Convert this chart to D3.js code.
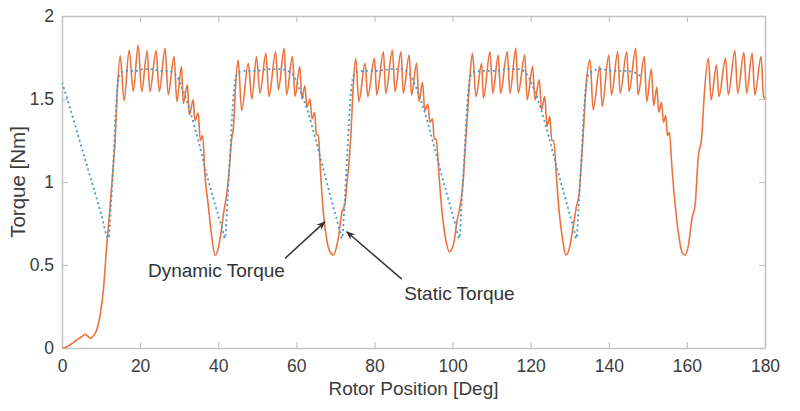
<!DOCTYPE html>
<html>
<head>
<meta charset="utf-8">
<script src="https://cdn.jsdelivr.net/npm/d3@7"></script>
<style>
  body { margin: 0; background: #fff; }
  svg { display: block; font-family: "Liberation Sans", Arial, sans-serif; }
</style>
</head>
<body>
<svg id="chart" width="800" height="411"></svg>
<script>
const xTicks = [0, 20, 40, 60, 80, 100, 120, 140, 160, 180]
const yTicks = [0, 0.5, 1, 1.5, 2]

// [rotor position (deg), torque (Nm)]
const dynamicTorque = [
  [0, 0], [1, 0.005], [2, 0.018], [3, 0.035], [4, 0.052], [5, 0.068], [5.9, 0.082], [6.6, 0.072],
  [7.3, 0.058], [8.1, 0.075], [8.9, 0.11], [9.7, 0.19], [10.6, 0.35], [11.4, 0.6], [12.2, 0.82],
  [13.1, 1.09], [13.6, 1.25], [14.1, 1.52], [14.9, 1.76],
  [15.9, 1.49], [17.2, 1.795], [18.25, 1.545], [19.5, 1.825], [20.4, 1.545], [21.8, 1.79], [22.5, 1.545],
  [24.1, 1.79], [24.9, 1.545], [26.4, 1.805], [27.2, 1.525], [28.7, 1.755], [29.4, 1.485], [30.6, 1.695],
  [31.05, 1.475], [32.1, 1.585], [32.6, 1.405], [33.6, 1.495], [34.05, 1.37], [34.9, 1.415], [35.4, 1.25],
  [36.0, 1.28], [36.6, 1.04], [37.5, 0.85], [38.4, 0.66], [39.2, 0.56], [40.0, 0.6], [40.6, 0.68],
  [41.5, 0.83], [42.3, 0.95], [42.9, 1.1], [43.4, 1.25], [43.9, 1.33], [44.5, 1.6], [45.1, 1.735],
  [46.0, 1.43], [47.7, 1.715], [48.6, 1.5], [49.8, 1.755], [50.7, 1.535], [52.2, 1.775], [53.0, 1.515],
  [54.7, 1.785], [55.4, 1.555], [56.9, 1.805], [57.5, 1.525], [59.0, 1.755], [59.65, 1.515], [60.9, 1.695],
  [61.4, 1.5], [62.2, 1.58], [62.7, 1.45], [63.5, 1.5], [64.0, 1.38], [64.7, 1.42], [65.1, 1.29],
  [65.6, 1.28], [66.2, 1.06], [66.9, 0.82], [67.8, 0.65], [68.6, 0.58], [69.45, 0.56], [70.2, 0.6],
  [70.8, 0.67], [71.6, 0.81], [72.45, 0.87], [73.0, 1.0], [73.5, 1.12], [74.0, 1.3], [74.5, 1.55], [75.2, 1.745],
  [76.0, 1.485], [77.6, 1.715], [78.3, 1.515], [80.0, 1.745], [80.6, 1.525], [82.3, 1.785], [82.9, 1.535],
  [84.6, 1.795], [85.25, 1.545], [86.8, 1.785], [87.4, 1.535], [88.9, 1.765], [89.5, 1.525], [90.8, 1.715],
  [91.4, 1.485], [92.3, 1.6], [92.9, 1.43], [93.7, 1.47], [94.2, 1.36], [94.9, 1.38], [95.3, 1.26],
  [95.8, 1.26], [96.5, 1.05], [97.3, 0.82], [98.2, 0.66], [99.2, 0.58], [100.2, 0.62], [101.2, 0.77],
  [102.1, 0.88], [102.7, 1.0], [103.2, 1.19], [103.8, 1.4], [104.4, 1.62], [105.1, 1.775],
  [106.0, 1.515], [107.45, 1.715], [107.9, 1.505], [109.6, 1.785], [110.3, 1.535], [111.7, 1.765], [112.3, 1.535],
  [114.0, 1.785], [114.7, 1.535], [116.2, 1.805], [116.8, 1.535], [118.5, 1.765], [119.1, 1.495], [120.5, 1.695],
  [121.1, 1.495], [122.2, 1.615], [122.8, 1.435], [123.6, 1.515], [124.2, 1.335], [124.9, 1.395], [125.4, 1.25],
  [125.9, 1.25], [126.6, 1.03], [127.3, 0.82], [128.2, 0.65], [129.0, 0.56], [129.9, 0.6], [130.8, 0.72],
  [131.7, 0.85], [132.4, 0.93], [133.0, 1.12], [133.5, 1.31], [134.3, 1.61], [135.2, 1.735],
  [136.0, 1.435], [137.7, 1.695], [138.3, 1.455], [140.0, 1.765], [140.7, 1.525], [142.3, 1.785], [142.9, 1.535],
  [144.6, 1.785], [145.2, 1.545], [146.9, 1.805], [147.5, 1.525], [149.1, 1.755], [149.7, 1.485], [150.9, 1.68],
  [151.5, 1.46], [152.3, 1.57], [152.8, 1.42], [153.5, 1.48], [154.0, 1.36], [154.6, 1.4], [155.0, 1.28],
  [155.5, 1.3], [156.2, 1.08], [157.0, 0.86], [157.9, 0.68], [158.7, 0.58], [159.5, 0.56], [160.4, 0.62],
  [161.3, 0.78], [162.1, 0.86], [162.9, 1.15], [163.8, 1.27], [164.4, 1.51], [165.5, 1.745],
  [166.2, 1.495], [167.6, 1.705], [168.2, 1.515], [169.9, 1.745], [170.6, 1.525], [172.3, 1.79], [173.0, 1.535],
  [174.6, 1.78], [175.3, 1.535], [176.7, 1.775], [177.4, 1.525], [179.0, 1.755], [179.6, 1.52], [180, 1.5]
]

const staticTorque = [
  [0, 1.6], [2, 1.45], [4, 1.29], [6, 1.13], [8, 0.97], [10, 0.81], [11.9, 0.66], [12.5, 0.85],
  [13.1, 1.09], [13.7, 1.4], [14.3, 1.6], [15.2, 1.66], [17, 1.67], [19, 1.67], [21, 1.68], [23, 1.68],
  [25, 1.67], [27, 1.67], [29, 1.65], [31, 1.55], [33, 1.41], [35, 1.24], [37, 1.05], [39, 0.88],
  [41, 0.72], [41.7, 0.66], [42.4, 0.9], [43.0, 1.15], [43.7, 1.45], [44.4, 1.62], [45.2, 1.66],
  [47, 1.67], [50, 1.67], [53, 1.68], [56, 1.68], [59, 1.65], [61, 1.55], [63, 1.42], [65, 1.25],
  [67, 1.07], [69, 0.89], [71, 0.72], [71.7, 0.66], [72.4, 0.9], [73, 1.15], [73.7, 1.45], [74.4, 1.62],
  [75.2, 1.66], [78, 1.67], [81, 1.67], [84, 1.68], [87, 1.68], [89, 1.65], [91, 1.55], [93, 1.41],
  [95, 1.24], [97, 1.06], [99, 0.89], [101, 0.72], [101.7, 0.66], [102.4, 0.9], [103, 1.15], [103.7, 1.45],
  [104.4, 1.62], [105.2, 1.66], [108, 1.67], [111, 1.67], [114, 1.68], [117, 1.68], [119, 1.65], [121, 1.55],
  [123, 1.41], [125, 1.24], [127, 1.06], [129, 0.89], [131, 0.72], [131.7, 0.66], [132.4, 0.9], [133, 1.15],
  [133.7, 1.45], [134.4, 1.62], [135.2, 1.66], [138, 1.68], [141, 1.67], [144, 1.67], [146.5, 1.66], [148.5, 1.63]
]

const width = 800
const height = 411
const margin = { top: 16, right: 35, bottom: 63, left: 62 }
const innerW = width - margin.left - margin.right
const innerH = height - margin.top - margin.bottom

const axisColor = '#c3c3c3'
const textColor = '#3c3c3c'

const xScale = d3.scaleLinear().domain([0, 180]).range([0, innerW])
const yScale = d3.scaleLinear().domain([0, 2]).range([innerH, 0])

const svg = d3.select('#chart')
const g = svg.append('g').attr('transform', `translate(${margin.left},${margin.top})`)

svg.append('defs').call(defs => {
  defs.append('clipPath').attr('id', 'plot-clip')
    .append('rect').attr('width', innerW).attr('height', innerH)
  defs.append('marker')
    .attr('id', 'arrowhead')
    .attr('viewBox', '0 0 10 10')
    .attr('refX', 9).attr('refY', 5)
    .attr('markerWidth', 9).attr('markerHeight', 9)
    .attr('markerUnits', 'userSpaceOnUse')
    .attr('orient', 'auto')
    .append('path').attr('d', 'M0,1 L10,5 L0,9 L3,5 Z').attr('fill', '#333')
})

// 坐标轴（四边框 + 内向刻度）
function styleAxis(sel) {
  sel.select('.domain').attr('stroke', axisColor).attr('stroke-width', 1.5)
  sel.selectAll('.tick line').attr('stroke', axisColor).attr('stroke-width', 1.2)
  sel.selectAll('.tick text').attr('fill', textColor).style('font-size', '17.5px')
}

const fmt = d => d3.format('~g')(d)

g.append('g').attr('class', 'xaxis')
  .attr('transform', `translate(0,${innerH})`)
  .call(d3.axisBottom(xScale).tickValues(xTicks).tickSize(-6).tickSizeOuter(0).tickPadding(12).tickFormat(fmt))
  .call(styleAxis)

g.append('g').attr('class', 'xaxis-top')
  .call(d3.axisTop(xScale).tickValues(xTicks).tickSize(-6).tickSizeOuter(0).tickFormat(''))
  .call(styleAxis)

g.append('g').attr('class', 'yaxis')
  .call(d3.axisLeft(yScale).tickValues(yTicks).tickSize(-6).tickSizeOuter(0).tickPadding(8).tickFormat(fmt))
  .call(styleAxis)

g.append('g').attr('class', 'yaxis-right')
  .attr('transform', `translate(${innerW},0)`)
  .call(d3.axisRight(yScale).tickValues(yTicks).tickSize(-6).tickSizeOuter(0).tickFormat(''))
  .call(styleAxis)

svg.selectAll('.domain').attr('fill', 'none')

// 曲线
const line = d3.line()
  .x(d => xScale(d[0]))
  .y(d => yScale(d[1]))
  .curve(d3.curveMonotoneX)

const plot = g.append('g').attr('clip-path', 'url(#plot-clip)')

plot.append('path')
  .datum(dynamicTorque)
  .attr('fill', 'none')
  .attr('stroke', '#EA733E')
  .attr('stroke-width', 1.6)
  .attr('stroke-linejoin', 'round')
  .attr('d', line)

plot.append('path')
  .datum(staticTorque)
  .attr('fill', 'none')
  .attr('stroke', '#3a9ad9')
  .attr('stroke-width', 1.8)
  .attr('stroke-dasharray', '2,3')
  .attr('d', line)

// 轴标题
svg.append('text')
  .attr('x', margin.left + innerW / 2)
  .attr('y', 395)
  .attr('text-anchor', 'middle')
  .attr('fill', textColor)
  .style('font-size', '19px')
  .text('Rotor Position [Deg]')

svg.append('text')
  .attr('transform', `translate(25,${margin.top + innerH / 2}) rotate(-90)`)
  .attr('text-anchor', 'middle')
  .attr('fill', textColor)
  .style('font-size', '20.5px')
  .text('Torque [Nm]')

// 标注
const notes = [
  { label: 'Dynamic Torque', text: [22.0, 0.43], from: [57.1, 0.54], to: [67.3, 0.76] },
  { label: 'Static Torque', text: [87.6, 0.29], from: [87.0, 0.415], to: [72.9, 0.70] }
]

const note = g.append('g').attr('class', 'notes')
note.selectAll('line').data(notes).join('line')
  .attr('x1', d => xScale(d.from[0])).attr('y1', d => yScale(d.from[1]))
  .attr('x2', d => xScale(d.to[0])).attr('y2', d => yScale(d.to[1]))
  .attr('stroke', '#333').attr('stroke-width', 1.5)
  .attr('marker-end', 'url(#arrowhead)')

note.selectAll('text').data(notes).join('text')
  .attr('x', d => xScale(d.text[0])).attr('y', d => yScale(d.text[1]))
  .attr('fill', '#333')
  .style('font-size', '19px')
  .text(d => d.label)
</script>
</body>
</html>
